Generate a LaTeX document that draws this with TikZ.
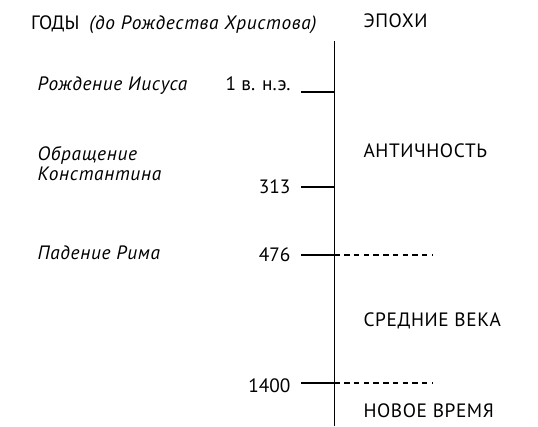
\documentclass[tikz,border=0pt]{standalone}
\usepackage{fontspec}
\setmainfont{PT Sans}
\newfontfamily\eventfont{PT Sans}[LetterSpace=3.5]
\newfontfamily\epochfont{PT Sans}[LetterSpace=3]
\usetikzlibrary{positioning}
\tikzset{
  event/.style={anchor=base west,font=\eventfont\itshape\fontsize{14.5}{14.5}\selectfont,align=left,inner sep=0pt},
  datum/.style={anchor=base east,font=\fontsize{14.5}{14.5}\selectfont,inner sep=0pt},
  epoch/.style={anchor=base west,font=\epochfont\fontsize{14.5}{14.5}\selectfont,inner sep=0pt},
  boundary/.style={dashed,dash pattern=on 4pt off 3.3pt}
}
\begin{document}
\begin{tikzpicture}[x=0.75pt,y=-0.75pt,line width=0.9pt]
\useasboundingbox (0,0) rectangle (538,426);
%\draw[help lines,step=50] (0,0) grid (538,426);

\node[datum,anchor=base west] (years) at (30.5,29.3) {ГОДЫ};
\node[event,right=6.5pt of years.base east,anchor=base west] (bc) {(до Рождества Христова)};
\node[epoch] (epochs) at (363,27.3) {ЭПОХИ};

% axis
\coordinate (top) at (334.5,41);
\coordinate (bottom) at (334.5,426);
\draw (top) -- (bottom);

% dates and ticks
\foreach \name/\y/\b/\txt in {ad/92/90/{1 в. н.э.},c313/187/193.3/313,c476/255/261/476,c1400/383/392/1400}{
  \node[datum] (\name) at (291,\b) {\txt};
  \coordinate (\name tick) at (301,\y);
  \coordinate (\name axis) at (334.5,\y);
  \draw (\name tick) -- (\name axis);
}
\coordinate (c476end) at (432,255);
\coordinate (c1400end) at (432,383);
\draw[boundary] (c476axis) -- (c476end);
\draw[boundary] (c1400axis) -- (c1400end);

% events
\node[event] (jesus) at (37,90) {Рождение Иисуса};
\node[event] (constantine) at (37,180) {Обращение\\Константина};
\node[event] (rome) at (37,259) {Падение Рима};

% epochs
\node[epoch] (antiquity) at (363,157.3) {АНТИЧНОСТЬ};
\node[epoch] (middle) at (363,326.7) {СРЕДНИЕ ВЕКА};
\node[epoch] (modern) at (363,417) {НОВОЕ ВРЕМЯ};
\end{tikzpicture}
\end{document}
